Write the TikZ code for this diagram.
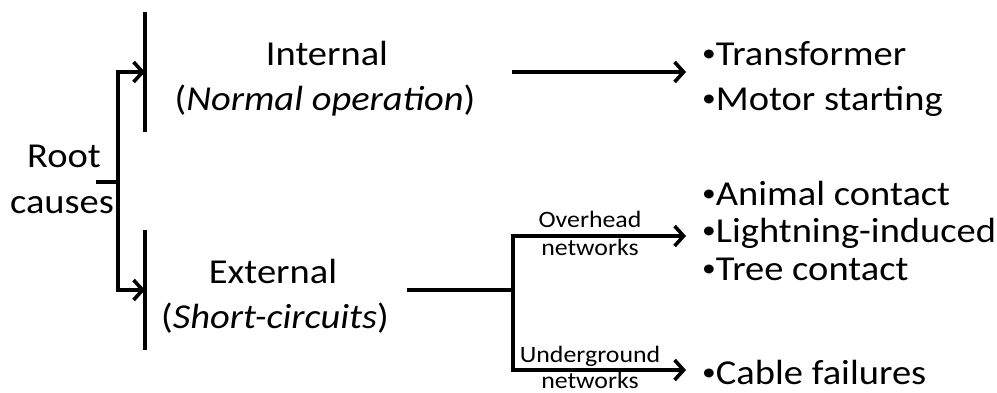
\documentclass[tikz,border=0pt]{standalone}
\usepackage{fontspec}
\setmainfont{Carlito}[FakeStretch=1.1]
\usetikzlibrary{arrows.meta}
\newcommand{\bul}{\raisebox{4pt}{\fontsize{25}{25}\selectfont •}}
\begin{document}
\begin{tikzpicture}[x=1pt,y=-1pt,
  line/.style={line width=3.6pt},
  arr/.style={line width=3.6pt,-{Straight Barb[length=9pt,width=20pt,line width=3.6pt]}},
  big/.style={inner sep=0pt,font=\fontsize{35}{42}\selectfont},
  small/.style={inner sep=0pt,font=\fontsize{23.5}{28}\selectfont}]
\useasboundingbox (0,0) rectangle (997,392);
% left text
\node[big,anchor=base] (root) at (64,167) {Root};
\node[big,anchor=base] (causes) at (62,213) {causes};
\node[big,anchor=base] (internal) at (327,65) {Internal};
\node[big,anchor=base] (normal) at (325,110) {(\textit{Normal operation})};
\node[big,anchor=base] (external) at (273,283) {External};
\node[big,anchor=base] (short) at (275,328) {(\textit{Short-circuits})};
% bullets
\node[big,anchor=base west] (b1) at (702,65) {\bul Transformer};
\node[big,anchor=base west] (b2) at (702,110) {\bul Motor starting};
\node[big,anchor=base west] (b3) at (702,205) {\bul Animal contact};
\node[big,anchor=base west] (b4) at (702,242) {\bul Lightning-induced};
\node[big,anchor=base west] (b5) at (702,280) {\bul Tree contact};
\node[big,anchor=base west] (b6) at (702,384) {\bul Cable failures};
% small labels
\node[small,anchor=base] (oh1) at (590,227) {Overhead};
\node[small,anchor=base] (oh2) at (590,255) {networks};
\node[small,anchor=base] (ug1) at (590,362) {Underground};
\node[small,anchor=base] (ug2) at (590,388) {networks};
% coordinates
\coordinate (tick) at (96,182);
\coordinate (fork) at (118,182);
\coordinate (forkT) at (118,72);
\coordinate (forkB) at (118,290);
\coordinate (barTt) at (145,12);
\coordinate (barTb) at (145,132);
\coordinate (barBt) at (145,230);
\coordinate (barBb) at (145,350);
\coordinate (intS) at (512,72);
\coordinate (intE) at (686,72);
\coordinate (extS) at (407,290);
\coordinate (extF) at (513,290);
\coordinate (ohS) at (513,236);
\coordinate (ohE) at (686,236);
\coordinate (ugS) at (513,370);
\coordinate (ugE) at (686,370);
% bars
\draw[line] (barTt) -- (barTb);
\draw[line] (barBt) -- (barBb);
% root fork
\draw[line] (tick) -- (fork);
\draw[arr] (fork) -- (forkT) -- (barTt |- forkT);
\draw[arr] (fork) -- (forkB) -- (barBt |- forkB);
% internal arrow
\draw[arr] (intS) -- (intE);
% external
\draw[line] (extS) -- (extF);
\draw[arr] (extF) -- (ohS) -- (ohE);
\draw[arr] (extF) -- (ugS) -- (ugE);
\end{tikzpicture}
\end{document}
